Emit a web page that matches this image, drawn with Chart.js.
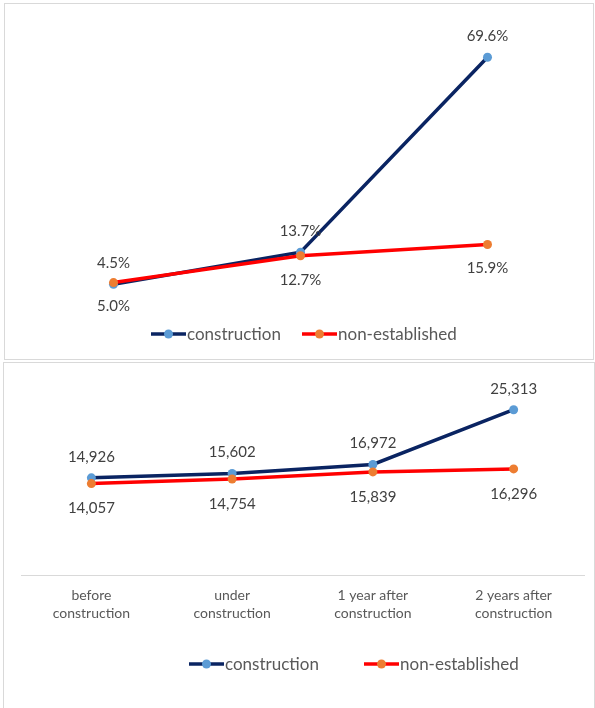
<!DOCTYPE html>
<html><head><meta charset="utf-8">
<script src="https://cdn.jsdelivr.net/npm/chart.js@4"></script>
<style>
html,body{margin:0;padding:0;background:#fff;width:595px;height:708px;overflow:hidden;}
.panel{position:absolute;border:1px solid #d9d9d9;box-sizing:border-box;}
.wrap{position:absolute;left:0;}
canvas{display:block;}
</style></head><body>
<div class="panel" style="left:4px;top:3px;width:590px;height:357px;"></div>
<div class="panel" style="left:3px;top:362px;width:592px;height:350px;"></div>
<div class="wrap" style="top:0;width:595px;height:360px"><canvas id="c1" width="595" height="360"></canvas></div>
<div class="wrap" style="top:360px;width:595px;height:348px"><canvas id="c2" width="595" height="348"></canvas></div>
<script>
// ---- data ----
const seriesNames = ['construction', 'non-established'];
const topCategories = ['stage 1', 'stage 2', 'stage 3'];
const topConstruction = [4.5, 13.7, 69.6];
const topNonEstablished = [5.0, 12.7, 15.9];
const bottomCategories = [['before', 'construction'], ['under', 'construction'], ['1 year after', 'construction'], ['2 years after', 'construction']];
const bottomConstruction = [14926, 15602, 16972, 25313];
const bottomNonEstablished = [14057, 14754, 15839, 16296];

// ---- styles ----
const NAVY = '#0A2462', RED = '#FF0000', BLUE_PT = '#5B9BD5', ORANGE_PT = '#ED7D31';
const FONT = 'Lato';

const pointLabelPlugin = {
  id: 'pointLabels',
  afterDatasetsDraw(chart, args, opts) {
    const ctx = chart.ctx;
    ctx.save();
    ctx.font = opts.size + 'px ' + FONT;
    ctx.fillStyle = '#404040';
    ctx.textAlign = 'center';
    ctx.textBaseline = 'middle';
    chart.data.datasets.forEach((ds, i) => {
      const meta = chart.getDatasetMeta(i);
      const off = opts.offsets[i];
      meta.data.forEach((pt, j) => {
        ctx.fillText(opts.format(ds.data[j]), pt.x, pt.y + off);
      });
    });
    ctx.restore();
  }
};

const lineLegendPlugin = {
  id: 'lineLegend',
  afterDraw(chart, args, opts) {
    const ctx = chart.ctx;
    ctx.save();
    ctx.font = opts.size + 'px ' + FONT;
    ctx.textBaseline = 'middle';
    ctx.textAlign = 'left';
    chart.data.datasets.forEach((ds, i) => {
      const x = opts.xs[i], y = opts.y;
      ctx.strokeStyle = ds.borderColor;
      ctx.lineWidth = 3.5;
      ctx.lineCap = 'butt';
      ctx.beginPath(); ctx.moveTo(x, y); ctx.lineTo(x + 35, y); ctx.stroke();
      ctx.fillStyle = ds.pointBackgroundColor;
      ctx.beginPath(); ctx.arc(x + 17.5, y, 4.5, 0, Math.PI * 2); ctx.fill();
      ctx.fillStyle = '#595959';
      ctx.fillText(ds.label, x + 36, y + 1);
    });
    ctx.restore();
  }
};

function makeDatasets(a, b) {
  return [
    { label: seriesNames[0], data: a, borderColor: NAVY, backgroundColor: NAVY, borderWidth: 3.5,
      pointBackgroundColor: BLUE_PT, pointBorderColor: BLUE_PT, pointBorderWidth: 0, pointRadius: 4.5, order: 1, tension: 0 },
    { label: seriesNames[1], data: b, borderColor: RED, backgroundColor: RED, borderWidth: 3.5,
      pointBackgroundColor: ORANGE_PT, pointBorderColor: ORANGE_PT, pointBorderWidth: 0, pointRadius: 4.5, order: 0, tension: 0 }
  ];
}

new Chart(document.getElementById('c1'), {
  type: 'line',
  data: { labels: topCategories, datasets: makeDatasets(topConstruction, topNonEstablished) },
  options: {
    responsive: false, animation: false, devicePixelRatio: 1,
    layout: { padding: { left: 20, right: 14, top: 21, bottom: 60 } },
    scales: {
      x: { display: false, offset: true },
      y: { display: false, min: 0, max: 80 }
    },
    plugins: {
      legend: { display: false }, tooltip: { enabled: false },
      pointLabels: { size: 15, offsets: [-21, 24], format: v => v.toFixed(1) + '%' },
      lineLegend: { size: 17, xs: [151, 302], y: 334 }
    }
  },
  plugins: [pointLabelPlugin, lineLegendPlugin]
});

new Chart(document.getElementById('c2'), {
  type: 'line',
  data: { labels: bottomCategories, datasets: makeDatasets(bottomConstruction, bottomNonEstablished) },
  options: {
    responsive: false, animation: false, devicePixelRatio: 1,
    layout: { padding: { left: 21, right: 11, top: 19, bottom: 75 } },
    scales: {
      x: { display: true, offset: true,
        grid: { display: false, drawTicks: false },
        border: { display: true, color: '#d9d9d9', width: 1 },
        ticks: { color: '#595959', font: { family: FONT, size: 14, lineHeight: 1.33 }, padding: 10, maxRotation: 0, autoSkip: false } },
      y: { display: false, min: 0, max: 30000 }
    },
    plugins: {
      legend: { display: false }, tooltip: { enabled: false },
      pointLabels: { size: 15, offsets: [-21, 25], format: v => v.toLocaleString('en-US') },
      lineLegend: { size: 17, xs: [189, 364], y: 304 }
    }
  },
  plugins: [pointLabelPlugin, lineLegendPlugin]
});
</script>
</body></html>
